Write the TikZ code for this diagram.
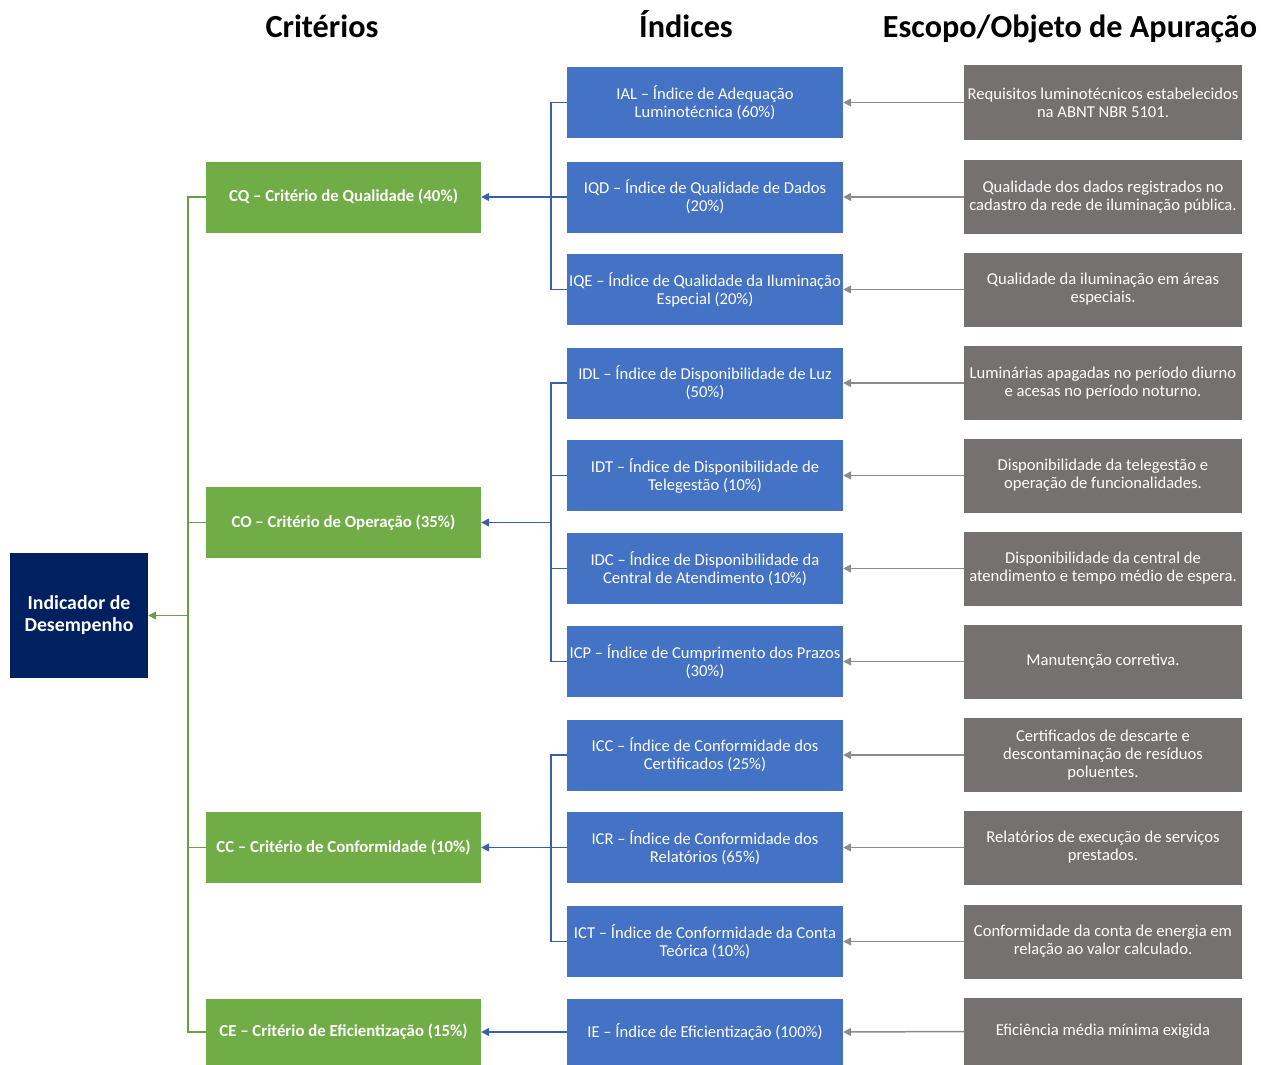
\documentclass[tikz,border=0pt]{standalone}
\usepackage{fontspec}
\setmainfont{Carlito}
\usetikzlibrary{arrows.meta}
\definecolor{navy}{HTML}{002060}
\definecolor{cgreen}{HTML}{70AD47}
\definecolor{cgreenl}{HTML}{6A9E45}
\definecolor{cblue}{HTML}{4472C4}
\definecolor{cbluel}{HTML}{3A5FA8}
\definecolor{cgray}{HTML}{767171}
\definecolor{cgrayl}{HTML}{8C8A8A}
\begin{document}
\begin{tikzpicture}[x=1pt,y=-1pt,
  box/.style={draw=none, inner sep=0pt, align=center, text=white,
    font=\fontsize{16.6}{18}\selectfont},
  navybox/.style={box, fill=navy, minimum width=138, minimum height=125,
    font=\fontsize{19.8}{22}\selectfont\bfseries},
  greenbox/.style={box, fill=cgreen, minimum width=275, minimum height=71,
    font=\fontsize{16.8}{18}\selectfont\bfseries},
  bluebox/.style={box, fill=cblue, minimum width=276, minimum height=71},
  graybox/.style={box, fill=cgray, minimum width=278, minimum height=74},
  header/.style={font=\fontsize{32.2}{36}\selectfont\bfseries, inner sep=0pt, anchor=base},
  gline/.style={draw=cgreenl, line width=1.5pt},
  bline/.style={draw=cbluel, line width=1.5pt},
  grline/.style={draw=cgrayl, line width=1.5pt},
  tip/.style={-{Triangle[length=8pt,width=8pt]}}
]
\useasboundingbox (0,0) rectangle (1270,1065);

% headers
\node[header] (h1) at (322,38) {Critérios};
\node[header] (h2) at (686,38) {Índices};
\node[header] (h3) at (1070,38) {Escopo/Objeto de Apuração};

% root
\node[navybox] (ind) at (79,615.5) {Indicador de\\Desempenho};

% criteria
\node[greenbox] (cq) at (343.5,197) {CQ – Critério de Qualidade (40\%)};
\node[greenbox] (co) at (343.5,522.5) {CO – Critério de Operação (35\%)};
\node[greenbox] (cc) at (343.5,847.5) {CC – Critério de Conformidade (10\%)};
\node[greenbox, minimum height=66] (ce) at (343.5,1032) {CE – Critério de Eficientização (15\%)};

% indices
\node[bluebox] (ial) at (705,102.5) {IAL – Índice de Adequação\\Luminotécnica (60\%)};
\node[bluebox] (iqd) at (705,197) {IQD – Índice de Qualidade de Dados\\(20\%)};
\node[bluebox] (iqe) at (705,289.5) {IQE – Índice de Qualidade da Iluminação\\Especial (20\%)};
\node[bluebox] (idl) at (705,383) {IDL – Índice de Disponibilidade de Luz\\(50\%)};
\node[bluebox] (idt) at (705,475.5) {IDT – Índice de Disponibilidade de\\Telegestão (10\%)};
\node[bluebox] (idc) at (705,568.5) {IDC – Índice de Disponibilidade da\\Central de Atendimento (10\%)};
\node[bluebox] (icp) at (705,661.5) {ICP – Índice de Cumprimento dos Prazos\\(30\%)};
\node[bluebox] (icc) at (705,755) {ICC – Índice de Conformidade dos\\Certificados (25\%)};
\node[bluebox] (icr) at (705,847.5) {ICR – Índice de Conformidade dos\\Relatórios (65\%)};
\node[bluebox] (ict) at (705,941.5) {ICT – Índice de Conformidade da Conta\\Teórica (10\%)};
\node[bluebox, minimum height=66] (ie) at (705,1032) {IE – Índice de Eficientização (100\%)};

% scope
\node[graybox] (s1) at (1103,102.5) {Requisitos luminotécnicos estabelecidos\\na ABNT NBR 5101.};
\node[graybox] (s2) at (1103,197) {Qualidade dos dados registrados no\\cadastro da rede de iluminação pública.};
\node[graybox] (s3) at (1103,289.5) {Qualidade da iluminação em áreas\\especiais.};
\node[graybox] (s4) at (1103,383) {Luminárias apagadas no período diurno\\e acesas no período noturno.};
\node[graybox] (s5) at (1103,475.5) {Disponibilidade da telegestão e\\operação de funcionalidades.};
\node[graybox] (s6) at (1103,568.5) {Disponibilidade da central de\\atendimento e tempo médio de espera.};
\node[graybox] (s7) at (1103,661.5) {Manutenção corretiva.};
\node[graybox] (s8) at (1103,755) {Certificados de descarte e\\descontaminação de resíduos\\poluentes.};
\node[graybox] (s9) at (1103,847.5) {Relatórios de execução de serviços\\prestados.};
\node[graybox] (s10) at (1103,941.5) {Conformidade da conta de energia em\\relação ao valor calculado.};
\node[graybox, minimum height=67] (s11) at (1103,1031.5) {Eficiência média mínima exigida};

% green tree
\coordinate (gt) at (188,615.5);
\foreach \n in {cq,co,cc,ce} \draw[gline] (\n.west) -| (gt);
\draw[gline, tip] (gt) -- (ind.east);

% blue trees
\coordinate (b1) at (551,197);
\foreach \n in {ial,iqd,iqe} \draw[bline] (\n.west) -| (b1);
\draw[bline, tip] (b1) -- (cq.east);

\coordinate (b2) at (551,522.5);
\foreach \n in {idl,idt,idc,icp} \draw[bline] (\n.west) -| (b2);
\draw[bline, tip] (b2) -- (co.east);

\coordinate (b3) at (551,847.5);
\foreach \n in {icc,icr,ict} \draw[bline] (\n.west) -| (b3);
\draw[bline, tip] (b3) -- (cc.east);

\draw[bline, tip] (ie.west) -- (ce.east);

% gray arrows
\draw[grline, tip] (s1.west) -- (ial.east);
\draw[grline, tip] (s2.west) -- (iqd.east);
\draw[grline, tip] (s3.west) -- (iqe.east);
\draw[grline, tip] (s4.west) -- (idl.east);
\draw[grline, tip] (s5.west) -- (idt.east);
\draw[grline, tip] (s6.west) -- (idc.east);
\draw[grline, tip] (s7.west) -- (icp.east);
\draw[grline, tip] (s8.west) -- (icc.east);
\draw[grline, tip] (s9.west) -- (icr.east);
\draw[grline, tip] (s10.west) -- (ict.east);
\draw[grline, tip] (s11.west) -- (ie.east);
\end{tikzpicture}
\end{document}
